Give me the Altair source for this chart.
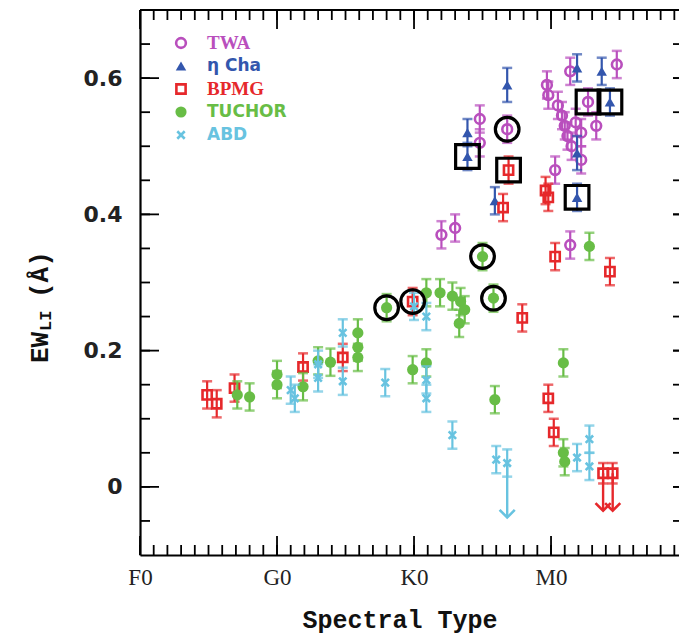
import altair as alt
import pandas as pd

# ---------------- data ----------------
GROUPS = ["TWA", "η Cha", "BPMG", "TUCHOR", "ABD"]
COLORS = ["#b94fbd", "#3356ad", "#e6282b", "#68bd46", "#68c3e0"]

TWA_X = [22.0, 23.0, 24.8, 24.8, 26.8, 29.7, 29.8, 30.3, 30.5, 30.8, 31.0, 31.2, 31.4,
         31.5, 31.4, 31.8, 32.2, 32.7, 33.3, 32.2, 34.8]
TWA_Y = [0.370, 0.380, 0.540, 0.505, 0.525, 0.590, 0.575, 0.465, 0.560, 0.545, 0.530, 0.515,
         0.610, 0.500, 0.355, 0.535, 0.520, 0.565, 0.530, 0.480, 0.620]
TWA_E = [0.02] * 21

ETA_X = [23.9, 23.9, 25.9, 26.8, 31.9, 31.9, 31.9, 33.7, 34.3]
ETA_Y = [0.520, 0.485, 0.420, 0.590, 0.615, 0.490, 0.425, 0.610, 0.565]
ETA_E = [0.02, 0.02, 0.02, 0.025, 0.02, 0.025, 0.02, 0.02, 0.02]

BPMG_X = [4.9, 5.6, 6.9, 11.9, 14.8, 19.9, 26.5, 26.9, 27.9, 29.6, 29.8, 29.8, 30.2, 30.3,
          34.3, 33.8, 34.5]
BPMG_Y = [0.135, 0.122, 0.145, 0.176, 0.190, 0.272, 0.410, 0.465, 0.248, 0.435, 0.425, 0.130,
          0.080, 0.338, 0.316, 0.020, 0.020]
BPMG_E = [0.02] * 15 + [0.015, 0.015]

TUC_X = [7.1, 8.0, 10.0, 10.0, 11.9, 13.0, 13.9, 15.9, 15.9, 15.9, 18.0, 19.9, 20.9, 20.9,
         21.9, 22.8, 23.4, 23.7, 23.3, 25.0, 25.8, 25.9, 30.9, 30.9, 31.0, 32.8]
TUC_Y = [0.135, 0.132, 0.165, 0.150, 0.147, 0.185, 0.183, 0.226, 0.190, 0.205, 0.263, 0.172,
         0.182, 0.285, 0.285, 0.280, 0.272, 0.260, 0.240, 0.338, 0.277, 0.128, 0.182, 0.050,
         0.037, 0.353]
TUC_E = [0.02] * 26

ABD_X = [11.0, 11.3, 13.0, 13.0, 14.8, 14.8, 17.9, 20.0, 20.9, 20.9, 20.9, 22.8, 26.0,
         26.8, 31.9, 32.8, 32.8]
ABD_Y = [0.142, 0.130, 0.180, 0.160, 0.226, 0.155, 0.153, 0.265, 0.250, 0.157, 0.130, 0.076,
         0.040, 0.035, 0.043, 0.070, 0.030]
ABD_E = [0.02] * 17

# upper limits (arrows)
LIM_GROUP = ["ABD", "BPMG", "BPMG"]
LIM_X = [26.8, 33.8, 34.5]
LIM_Y = [0.035, 0.020, 0.020]
LIM_TIP = [-0.045, -0.035, -0.035]

# highlighted points (black rings / boxes)
RING_X = [18.0, 19.9, 25.0, 25.8, 26.8, 26.9, 23.9, 31.9, 32.7, 34.3]
RING_Y = [0.263, 0.272, 0.338, 0.277, 0.525, 0.465, 0.485, 0.425, 0.565, 0.565]
RING_SHAPE = ["circle", "circle", "circle", "circle", "circle", "square",
              "square", "square", "square", "square"]

X_MAJOR = [0, 10, 20, 30]
X_LABELS = ["F0", "G0", "K0", "M0"]
X_MINOR = list(range(0, 40))
Y_MAJOR = [0.0, 0.2, 0.4, 0.6]
Y_MINOR = [-0.05, 0.0, 0.05, 0.1, 0.15, 0.2, 0.25, 0.3, 0.35, 0.4, 0.45, 0.5, 0.55, 0.6, 0.65]

# ---------------- build ----------------
W, H = 539, 545
XS = alt.Scale(domain=[0, 39.34], nice=False, zero=False)
YS = alt.Scale(domain=[-0.1, 0.7], nice=False, zero=False)

series = {
    "TWA": (TWA_X, TWA_Y, TWA_E),
    "η Cha": (ETA_X, ETA_Y, ETA_E),
    "BPMG": (BPMG_X, BPMG_Y, BPMG_E),
    "TUCHOR": (TUC_X, TUC_Y, TUC_E),
    "ABD": (ABD_X, ABD_Y, ABD_E),
}
MARK = {
    "TWA": dict(shape="circle", filled=False, size=95, strokeWidth=2.6),
    "η Cha": dict(shape="triangle-up", filled=True, size=110),
    "BPMG": dict(shape="square", filled=False, size=85, strokeWidth=2.6),
    "TUCHOR": dict(shape="circle", filled=True, size=125),
    "ABD": dict(shape="M-1,-1L1,1M-1,1L1,-1", filled=False, size=55, strokeWidth=2.6),
}
color_of = dict(zip(GROUPS, COLORS))

lab_expr = ""
for v, l in zip(X_MAJOR, X_LABELS):
    lab_expr += f"datum.value == {v} ? '{l}' : "
lab_expr += "''"

x_axis = alt.Axis(values=X_MAJOR, labelExpr=lab_expr, ticks=False, domain=True,
                  domainColor="black", domainWidth=2.2, grid=False, title=None,
                  labelFont="Liberation Serif", labelFontSize=23, labelColor="#222",
                  labelPadding=11, labelFlush=False, orient="bottom")
y_axis = alt.Axis(values=Y_MAJOR, format=".1~f", ticks=False, domain=True,
                  domainColor="black", domainWidth=2.2, grid=False, title=None,
                  labelFont="DejaVu Sans", labelFontWeight="bold", labelFontSize=22,
                  labelColor="#222", labelPadding=18, orient="left")


def XE(f):
    return alt.X(f + ":Q", scale=XS, axis=x_axis)


def YE(f):
    return alt.Y(f + ":Q", scale=YS, axis=y_axis)


layers = []
for g in GROUPS:
    xs_, ys_, es_ = series[g]
    d = pd.DataFrame({"sp": xs_, "ew": ys_})
    d["lo"] = [y - e for y, e in zip(ys_, es_)]
    d["hi"] = [y + e for y, e in zip(ys_, es_)]
    c = color_of[g]
    base = alt.Chart(d)
    layers.append(base.mark_rule(color=c, strokeWidth=2.2).encode(
        x=XE("sp"), y=YE("lo"), y2="hi:Q"))
    for f in ["lo", "hi"]:
        layers.append(base.mark_tick(color=c, orient="horizontal", size=10, thickness=2.5).encode(
            x=XE("sp"), y=YE(f)))
    layers.append(base.mark_point(color=c, opacity=1, **MARK[g]).encode(x=XE("sp"), y=YE("ew")))

# upper limit arrows
lim = pd.DataFrame({"group": LIM_GROUP, "sp": LIM_X, "ew": LIM_Y, "tip": LIM_TIP})
for g in ["ABD", "BPMG"]:
    c = color_of[g]
    sub = alt.Chart(lim).transform_filter(alt.datum.group == g)
    layers.append(sub.mark_rule(color=c, strokeWidth=2.4).encode(
        x=XE("sp"), y=YE("ew"), y2="tip:Q"))
    layers.append(sub.mark_point(color=c, shape="M-1,-1L0,0L1,-1", size=230, strokeWidth=2.6,
                                 opacity=1).encode(x=XE("sp"), y=YE("tip")))

# rings and boxes
rings = pd.DataFrame({"sp": RING_X, "ew": RING_Y, "shape": RING_SHAPE})
layers.append(alt.Chart(rings).mark_point(color="black", filled=False, size=560, strokeWidth=3.2,
                                          opacity=1).encode(
    x=XE("sp"), y=YE("ew"), shape=alt.Shape("shape:N", scale=None, legend=None)))


# inward ticks
def xticks(vals, ln):
    d = alt.Chart(pd.DataFrame({"v": vals}))
    return [d.mark_rule(color="black", strokeWidth=1.8).encode(x=XE("v"), y=alt.value(0), y2=alt.value(ln)),
            d.mark_rule(color="black", strokeWidth=1.8).encode(x=XE("v"), y=alt.value(H), y2=alt.value(H - ln))]


def yticks(vals, ln):
    d = alt.Chart(pd.DataFrame({"v": vals}))
    return [d.mark_rule(color="black", strokeWidth=1.8).encode(y=YE("v"), x=alt.value(0), x2=alt.value(ln)),
            d.mark_rule(color="black", strokeWidth=1.8).encode(y=YE("v"), x=alt.value(W - 6), x2=alt.value(W))]


layers += xticks(X_MINOR, 10) + xticks(X_MAJOR, 19) + yticks(Y_MINOR, 10) + yticks(Y_MAJOR, 19)

# top frame line
layers.append(alt.Chart(pd.DataFrame({"a": [0]})).mark_rule(color="black", strokeWidth=2.2).encode(
    x=alt.value(0), x2=alt.value(W), y=alt.value(0)))


# axis titles
def txt(t, x, y, size, angle=0, align="left"):
    return alt.Chart(pd.DataFrame({"t": [t]})).mark_text(
        font="Liberation Mono", fontWeight="bold", fontSize=size, angle=angle, align=align,
        baseline="middle", color="#111").encode(text="t:N", x=alt.value(x), y=alt.value(y))


layers.append(txt("EW", -100, 353, 26, angle=270))
layers.append(txt("LI", -94, 321, 17, angle=270))
layers.append(txt("(Å)", -100, 288, 26, angle=270))
layers.append(txt("Spectral Type", 260, 610, 25, align="center"))

main = alt.layer(*layers)

# legend
leg_y = alt.Y("group:N", scale=alt.Scale(domain=GROUPS, range=[33, 125], padding=0), axis=None)
leg_layers = []
for g in GROUPS:
    d = alt.Chart(pd.DataFrame({"group": [g]}))
    leg_layers.append(d.mark_point(color=color_of[g], opacity=1, **MARK[g]).encode(
        x=alt.value(41), y=leg_y))
    serif = g in ("TWA", "BPMG")
    leg_layers.append(d.mark_text(align="left", baseline="middle",
                                  font="Liberation Serif" if serif else "DejaVu Sans",
                                  fontWeight="bold", fontSize=19 if serif else 17,
                                  color=color_of[g]).encode(
        x=alt.value(67), y=leg_y, text="group:N"))
legend = alt.layer(*leg_layers)

chart = alt.layer(main, legend).resolve_scale(y="independent").properties(
    width=W, height=H,
    padding={"left": 140, "top": 10, "right": 0, "bottom": 82},
    autosize=alt.AutoSizeParams(type="none"),
).configure_view(stroke=None).configure(background="white")

chart.save("out.html", embed_options={"renderer": "svg", "actions": False})
